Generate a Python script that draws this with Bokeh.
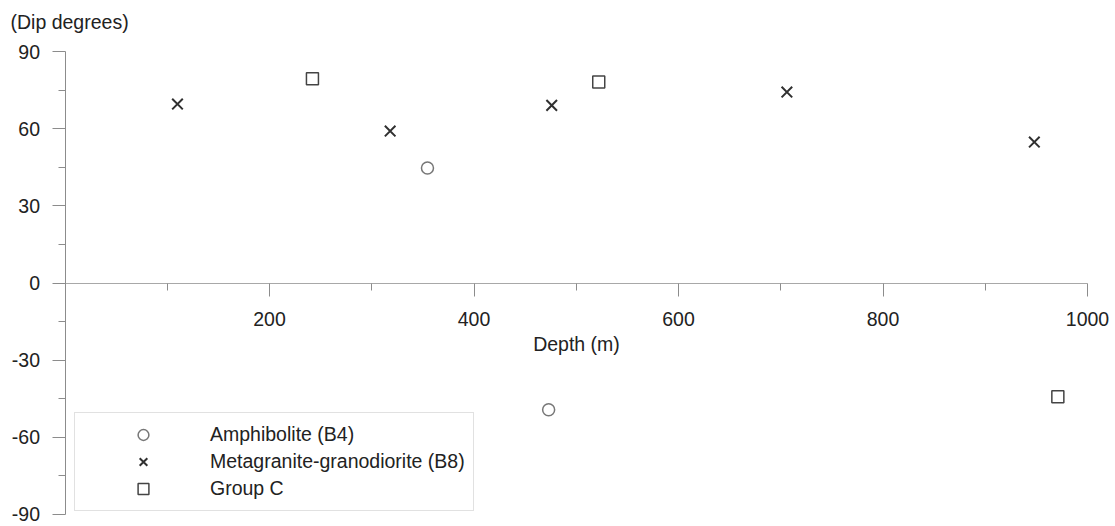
from bokeh.plotting import figure
from bokeh.models import Range1d, LinearAxis, FixedTicker, Legend, LegendItem, Label
from bokeh.embed import file_html
from bokeh.resources import INLINE

# Dip measurements against depth, by rock group
amph_depth = [354.5, 473]
amph_dip = [44.8, -49.4]
meta_depth = [110, 318, 476, 706, 948]
meta_dip = [69.7, 59.2, 69.2, 74.4, 54.9]
groupc_depth = [242, 522, 971]
groupc_dip = [79.6, 78.3, -44.3]

x_ticks = [200, 400, 600, 800, 1000]
x_minor = [100, 300, 500, 700, 900]
y_ticks = [-90, -60, -30, 0, 30, 60, 90]
y_minor = [-75, -45, -15, 15, 45, 75]

FONT = "Liberation Sans"
FS = "19.5px"
TXT = "#222222"
AX = "#8c8c8c"

W, H = 1115, 526
# the frame fills the whole canvas; both axes sit inside it at fixed positions
PX_PER_M = 1.0225
PX_PER_DEG = 2.5667
X0_PX, Y0_PX = 64.5, 282.5

x_lo = -X0_PX / PX_PER_M
x_hi = (W - X0_PX) / PX_PER_M
y_hi = Y0_PX / PX_PER_DEG
y_lo = (Y0_PX - H) / PX_PER_DEG

p = figure(
    frame_width=W, frame_height=H,
    x_range=Range1d(x_lo, x_hi), y_range=Range1d(y_lo, y_hi),
    output_backend="svg", toolbar_location=None,
    x_axis_location=None, y_axis_location=None,
    min_border=0,
    background_fill_color="white", border_fill_color="white",
)
p.outline_line_color = None
p.xgrid.visible = False
p.ygrid.visible = False

# vertical dip axis at zero depth
yax = LinearAxis(ticker=FixedTicker(ticks=y_ticks, minor_ticks=y_minor),
                 fixed_location=0, bounds=(-90, 90))
yax.major_label_overrides = {t: str(t) for t in y_ticks}
yax.axis_line_color = AX
yax.major_tick_line_color = AX
yax.minor_tick_line_color = AX
yax.major_tick_out = 13
yax.major_tick_in = 0
yax.minor_tick_out = 7
yax.minor_tick_in = 0
yax.major_label_standoff = 12
yax.major_label_text_font = FONT
yax.major_label_text_font_size = FS
yax.major_label_text_color = TXT
p.add_layout(yax, "left")

# depth axis along the zero-dip line
xax = LinearAxis(ticker=FixedTicker(ticks=x_ticks, minor_ticks=x_minor),
                 fixed_location=0, bounds=(0, 1000))
xax.axis_line_color = "#a8a8a8"
xax.major_tick_line_color = AX
xax.minor_tick_line_color = AX
xax.major_tick_out = 13
xax.major_tick_in = 0
xax.minor_tick_out = 7
xax.minor_tick_in = 0
xax.major_label_standoff = 16
xax.major_label_text_font = FONT
xax.major_label_text_font_size = FS
xax.major_label_text_color = TXT
xax.axis_label = "Depth (m)"
xax.axis_label_standoff = 3
xax.axis_label_text_font = FONT
xax.axis_label_text_font_size = FS
xax.axis_label_text_font_style = "normal"
xax.axis_label_text_color = TXT
p.add_layout(xax, "below")

# unit caption above the dip axis
p.add_layout(Label(x=-53.3, y=101.5, text="(Dip degrees)",
                   text_font=FONT, text_font_size=FS, text_color=TXT,
                   text_align="left", text_baseline="middle"))

r_amph = p.scatter(amph_depth, amph_dip, marker="circle", size=12,
                   fill_color=None, line_color="#777777", line_width=1.5)
r_meta = p.scatter(meta_depth, meta_dip, marker="x", size=15,
                   line_color="#303030", line_width=2)
r_grp = p.scatter(groupc_depth, groupc_dip, marker="square", size=12,
                  fill_color=None, line_color="#444444", line_width=1.5)

legend = Legend(
    items=[
        LegendItem(label="Amphibolite (B4)", renderers=[r_amph]),
        LegendItem(label="Metagranite-granodiorite (B8)", renderers=[r_meta]),
        LegendItem(label="Group C", renderers=[r_grp]),
    ],
    location=(74, 15),
    glyph_width=120, glyph_height=27, label_height=27,
    label_standoff=7, spacing=0, padding=8, margin=0,
    label_text_font=FONT, label_text_font_size=FS, label_text_color=TXT,
    border_line_color="#c4c4c4", border_line_width=1,
    background_fill_color="white", background_fill_alpha=1.0,
)
p.add_layout(legend, "center")

open("out.html", "w").write(file_html(p, INLINE))
